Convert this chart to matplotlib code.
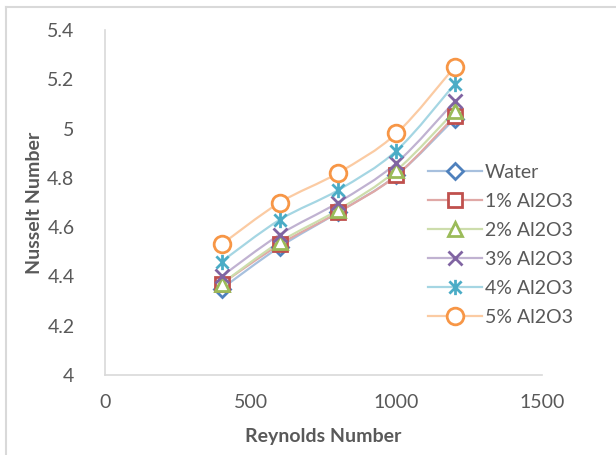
import matplotlib.pyplot as plt
from matplotlib.path import Path
from matplotlib.patches import PathPatch
from matplotlib.lines import Line2D
from matplotlib.colors import to_rgb

plt.rcParams['font.family'] = ['Lato', 'DejaVu Sans']

reynolds = [400, 600, 800, 1000, 1200]
water = [4.35, 4.52, 4.66, 4.81, 5.04]
al2o3_1 = [4.37, 4.53, 4.66, 4.81, 5.05]
al2o3_2 = [4.37, 4.54, 4.67, 4.83, 5.07]
al2o3_3 = [4.40, 4.57, 4.70, 4.86, 5.11]
al2o3_4 = [4.46, 4.63, 4.75, 4.91, 5.18]
al2o3_5 = [4.53, 4.70, 4.82, 4.98, 5.25]

names = ['Water', '1% Al2O3', '2% Al2O3', '3% Al2O3', '4% Al2O3', '5% Al2O3']
series = [water, al2o3_1, al2o3_2, al2o3_3, al2o3_4, al2o3_5]
colors = ['#4F81BD', '#C0504D', '#9BBB59', '#8064A2', '#4BACC6', '#F79646']

# asterisk marker: an x with a vertical bar through it
star = Path([(-1, -1), (1, 1), (-1, 1), (1, -1), (0, -1.25), (0, 1.25)],
            [Path.MOVETO, Path.LINETO] * 3)
markers = ['D', 's', '^', 'x', star, 'o']
sizes = [8.5, 10.5, 10.5, 10.5, 11, 12]


def tint(c, f=0.5):
    r, g, b = to_rgb(c)
    return (r + (1 - r) * f, g + (1 - g) * f, b + (1 - b) * f)


def smooth_path(xs, ys):
    # Catmull-Rom style bezier segments, like spreadsheet "smoothed line"
    pts = list(zip(xs, ys))
    verts = [pts[0]]
    codes = [Path.MOVETO]
    n = len(pts)
    for i in range(n - 1):
        p0 = pts[i - 1] if i > 0 else pts[i]
        p1 = pts[i]
        p2 = pts[i + 1]
        p3 = pts[i + 2] if i + 2 < n else pts[i + 1]
        c1 = (p1[0] + (p2[0] - p0[0]) / 6, p1[1] + (p2[1] - p0[1]) / 6)
        c2 = (p2[0] - (p3[0] - p1[0]) / 6, p2[1] - (p3[1] - p1[1]) / 6)
        verts += [c1, c2, p2]
        codes += [Path.CURVE4] * 3
    return Path(verts, codes)


fig = plt.figure(figsize=(6.16, 4.55), dpi=100)
ax = fig.add_axes([105 / 616, 1 - 375 / 455, 437 / 616, 345 / 455])

handles = []
for name, vals, c, m, s in zip(names, series, colors, markers, sizes):
    ax.add_patch(PathPatch(smooth_path(reynolds, vals), facecolor='none',
                           edgecolor=tint(c), lw=1.6, zorder=2))
    ax.plot(reynolds, vals, ls='none', marker=m, ms=s, mfc='white',
            mec=c, mew=2.0, zorder=3)
    handles.append(Line2D([], [], color=tint(c), lw=1.6, marker=m, ms=s,
                          mfc='white', mec=c, mew=2.0))

ax.set_xlim(0, 1500)
ax.set_ylim(4, 5.4)
ax.set_xticks([0, 500, 1000, 1500])
ax.set_yticks([4, 4.2, 4.4, 4.6, 4.8, 5, 5.2, 5.4])
ax.set_yticklabels(['4', '4.2', '4.4', '4.6', '4.8', '5', '5.2', '5.4'])
ax.tick_params(length=0, labelsize=14, labelcolor='#595959', pad=14)
ax.tick_params(axis='y', pad=22)
for side in ['top', 'right']:
    ax.spines[side].set_visible(False)
for side in ['left', 'bottom']:
    ax.spines[side].set_color('#D9D9D9')
    ax.spines[side].set_linewidth(1.2)

ax.set_xlabel('Reynolds Number', fontsize=14, fontweight='bold', color='#595959', labelpad=12)
ax.set_ylabel('Nusselt Number', fontsize=14, fontweight='bold', color='#595959', labelpad=3)

fig.legend(handles, names, loc='upper left', bbox_to_anchor=(410 / 616, 1 - 146 / 455),
           frameon=False, fontsize=14, handlelength=2.8, handletextpad=0.15,
           labelspacing=0.62, labelcolor='#595959')

# chart border along the top and left edges
fig.add_artist(Line2D([6 / 616, 6 / 616], [0, 1 - 7 / 455], color='#D9D9D9', lw=1.5))
fig.add_artist(Line2D([6 / 616, 1], [1 - 7 / 455, 1 - 7 / 455], color='#D9D9D9', lw=1.5))

fig.savefig('out.png', dpi=100)
